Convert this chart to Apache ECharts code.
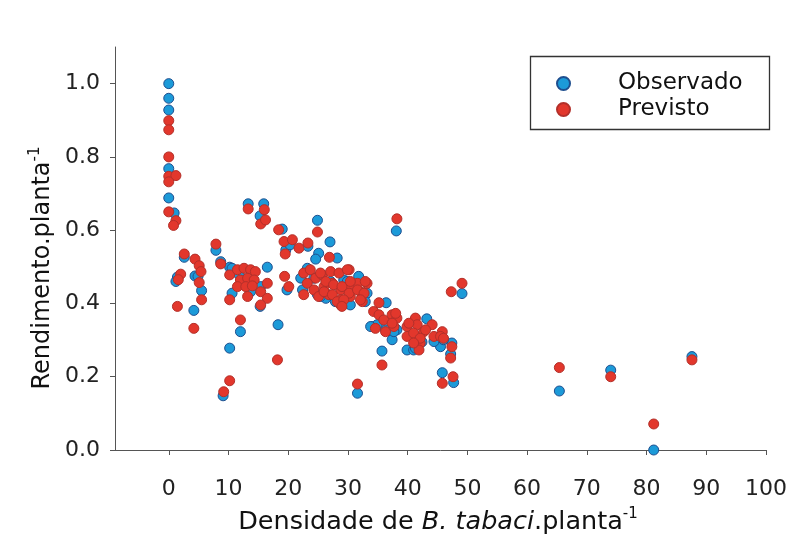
<!DOCTYPE html>
<html>
<head>
<meta charset="utf-8">
<script src="https://cdn.jsdelivr.net/npm/echarts@6/dist/echarts.min.js"></script>
<style>html,body{margin:0;padding:0;background:#fff;}#c{width:803px;height:547px;}</style>
</head>
<body>
<div id="c"></div>
<script>
// Observado
var obsX = [0,0,0,0,0,0.9,1.45,1.2,2.6,4.4,4.9,5.5,4.2,7.9,8.7,9.1,10.2,10.6,10.6,10.2,11.8,
  12,13.7,13.3,15.9,15.3,15.4,15.3,16.5,18.3,19.0,19.6,20.3,19.8,23.3,24.9,27,25.1,24.6,28.2,
  22.1,23.2,26.3,27.9,30.4,31.8,29.3,22.4,25.4,33.2,30.2,27.1,29.9,24.3,32.9,24.9,
  38.1,36.4,31.6,
  34.1,34.9,37.4,38.2,35.7,39.9,41,43.2,45.5,47.4,47.2,42.4,46,33.8,37.7,41.3,44.4,36.3,
  45.8,47.7,49.1,65.4,74,81.2,87.6];
var obsY = [1.0,0.96,0.928,0.768,0.688,0.647,0.472,0.46,0.526,0.475,0.474,0.435,0.381,0.545,0.514,0.148,0.499,0.496,0.428,0.278,0.478,
  0.323,0.432,0.672,0.672,0.639,0.446,0.392,0.499,0.342,0.603,0.546,0.56,0.437,0.556,0.627,0.568,0.537,0.521,0.524,
  0.469,0.496,0.414,0.405,0.396,0.474,0.464,0.437,0.419,0.428,0.455,0.46,0.46,0.469,0.405,0.424,
  0.598,0.402,0.155,
  0.337,0.342,0.301,0.328,0.27,0.273,0.273,0.358,0.282,0.292,0.262,0.295,0.301,0.337,0.323,0.278,0.296,0.328,
  0.211,0.184,0.427,0.161,0.218,0.0,0.255];
// Previsto
var predX = [0,0,0,0,1.2,0,0,1.2,0.8,
  2.6,2,1.6,1.45,4.4,5.1,5.4,5.1,5.5,4.2,
  7.9,8.7,9.2,10.2,10.2,10.2,
  11.5,12.6,13.7,14.5,12,13.2,14.3,11.5,12.9,14,13.2,15.4,16.5,16.5,15.4,
  12,13.3,16,15.4,16.2,
  18.4,18.2,19.3,20.7,21.8,23.3,19.5,19.4,20.1,
  24.9,26.9,38.2,
  22.6,23.7,24.6,25.7,27.1,28.5,30.2,23.2,24.3,26,27.4,28.8,30.2,31.6,32.1,33.2,22.6,25.1,26.8,28.8,30.4,32.4,28.8,
  26.3,27.6,29,30.4,32.9,26,27.4,30.2,31.6,32.7,28.2,29.3,32.1,29,29.9,25.4,
  35.2,31.6,35.7,
  34.3,35.2,36,37.4,38.2,34.6,36.3,37.7,39.9,41.3,41.6,42.7,44.1,44.4,45.8,40.7,42.1,39.9,41.9,45.5,47.4,47.2,38,37.4,40.2,41,43,46,42.1,41,
  45.8,47.6,47.3,49.1,
  65.4,74,81.2,87.6];
var predY = [0.899,0.874,0.8,0.747,0.749,0.732,0.65,0.626,0.613,
  0.535,0.48,0.465,0.392,0.521,0.503,0.487,0.457,0.41,0.332,
  0.562,0.508,0.159,0.189,0.41,0.478,
  0.492,0.496,0.492,0.487,0.464,0.469,0.464,0.446,0.446,0.448,0.419,0.432,0.455,0.414,0.396,
  0.355,0.658,0.656,0.617,0.628,
  0.601,0.246,0.569,0.574,0.551,0.565,0.535,0.474,0.446,
  0.595,0.526,0.631,
  0.483,0.492,0.469,0.478,0.487,0.483,0.492,0.455,0.437,0.446,0.455,0.437,0.446,0.455,0.432,0.455,0.424,0.419,0.424,0.41,0.419,0.405,0.396,
  0.46,0.451,0.446,0.46,0.46,0.432,0.424,0.428,0.437,0.428,0.405,0.41,0.41,0.392,0.492,0.483,
  0.402,0.18,0.232,
  0.378,0.369,0.355,0.369,0.36,0.332,0.323,0.337,0.337,0.36,0.342,0.323,0.342,0.31,0.323,0.31,0.292,0.31,0.273,0.31,0.282,0.251,0.373,0.346,0.346,0.319,0.328,0.305,0.305,0.292,
  0.182,0.2,0.432,0.455,
  0.225,0.2,0.071,0.246];
var xTicks = [0,10,20,30,40,50,60,70,80,90,100];
var yTicks = [0,0.2,0.4,0.6,0.8,1.0];
var seriesNames = ['Observado','Previsto'];

function pairs(xs, ys){ var out=[]; for(var i=0;i<xs.length;i++){ out.push([xs[i], ys[i]]); } return out; }

var FONT = 'DejaVu Sans';
var chart = echarts.init(document.getElementById('c'), null, {renderer:'canvas'});
chart.setOption({
  animation:false,
  backgroundColor:'#fff',
  grid:{left:115, right:37, top:47, bottom:97, containLabel:false},
  xAxis:{
    type:'value', min:-9, max:100,
    axisLine:{onZero:false, lineStyle:{color:'#555', width:1}},
    axisTick:{show:true, inside:false, length:5, customValues:xTicks, lineStyle:{color:'#555'}},
    axisLabel:{customValues:xTicks, margin:28, color:'#222', fontFamily:FONT, fontSize:22},
    splitLine:{show:false}
  },
  yAxis:{
    type:'value', min:0, max:1.1,
    axisLine:{show:true, onZero:false, lineStyle:{color:'#555', width:1}},
    axisTick:{show:true, inside:false, length:5, customValues:yTicks, lineStyle:{color:'#555'}},
    axisLabel:{customValues:yTicks, margin:15, color:'#222', fontFamily:FONT, fontSize:22,
      formatter:function(v){ return v.toFixed(1); }},
    splitLine:{show:false}
  },
  legend:{
    data:seriesNames, orient:'vertical', left:556, top:72, padding:0,
    itemWidth:13, itemHeight:13, itemGap:3, icon:'circle',
    formatter:function(n){ return '{n|' + n + '}'; },
    textStyle:{fontFamily:FONT, fontSize:23, color:'#111', lineHeight:22,
      rich:{n:{fontFamily:FONT, fontSize:23, color:'#111', lineHeight:22, padding:[0,0,0,43]}}}
  },
  graphic:[
    {type:'rect', z:1, shape:{x:530.5, y:56.5, width:239, height:73}, style:{fill:'#fff', stroke:'#333', lineWidth:1.3}},
    {type:'text', z:5, x:438, y:522, style:{
      text:'{a|Densidade de }{i|B. tabaci}{a|.planta}{s|-1}',
      textAlign:'center', textVerticalAlign:'middle',
      rich:{
        a:{fontFamily:FONT, fontSize:25.5, fill:'#111', lineHeight:30},
        i:{fontFamily:FONT, fontSize:25.5, fontStyle:'italic', fill:'#111', lineHeight:30},
        s:{fontFamily:FONT, fontSize:15, fill:'#111', lineHeight:30, verticalAlign:'top'}
      }}},
    {type:'text', z:5, x:43, y:268, rotation:Math.PI/2, style:{
      text:'{a|Rendimento.planta}{s|-1}',
      textAlign:'center', textVerticalAlign:'middle',
      rich:{
        a:{fontFamily:FONT, fontSize:24, fill:'#111', lineHeight:30},
        s:{fontFamily:FONT, fontSize:15, fill:'#111', lineHeight:30, verticalAlign:'top'}
      }}}
  ],
  series:[
    {name:seriesNames[0], type:'scatter', symbol:'circle', symbolSize:10, data:pairs(obsX, obsY),
      itemStyle:{color:'#1c9ad8', borderColor:'#1f4f8f', borderWidth:1, opacity:1}},
    {name:seriesNames[1], type:'scatter', symbol:'circle', symbolSize:10, data:pairs(predX, predY),
      itemStyle:{color:'#e2372c', borderColor:'#b3302a', borderWidth:1, opacity:1}}
  ]
});
</script>
</body>
</html>
